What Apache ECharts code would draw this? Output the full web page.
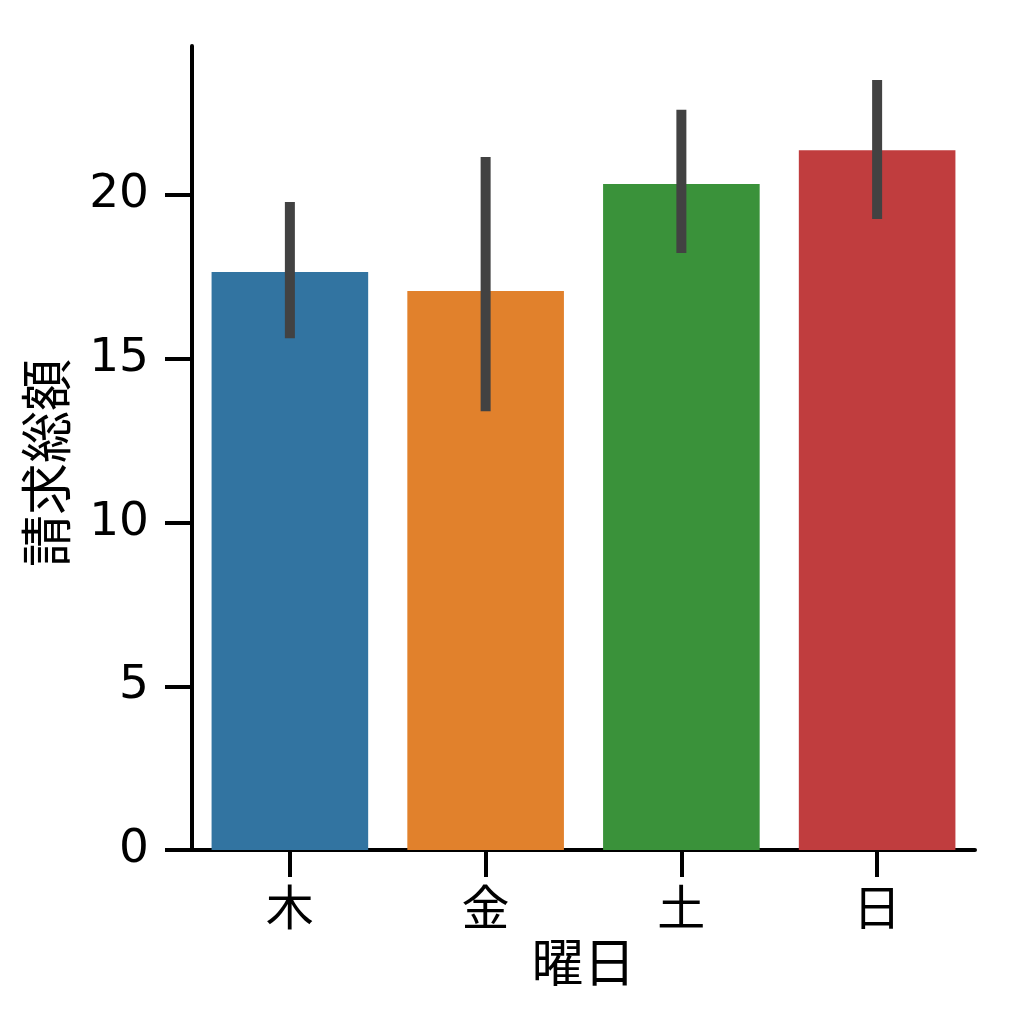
<!DOCTYPE html>
<html>
<head>
<meta charset="utf-8">
<script src="https://cdn.jsdelivr.net/npm/echarts@6/dist/echarts.min.js"></script>
<style>
  html, body { margin: 0; padding: 0; background: #fff; }
  #main { width: 1024px; height: 1024px; }
</style>
</head>
<body>
<div id="main"></div>
<script>
// data
var days = ['木', '金', '土', '日'];
var totals = [17.65, 17.07, 20.34, 21.37];
var errLow = [15.63, 13.40, 18.23, 19.27];
var errHigh = [19.79, 21.16, 22.60, 23.51];
var barColors = ['#3274a1', '#e1812c', '#3a923a', '#c03d3e'];
var yTicks = [0, 5, 10, 15, 20];

var font = '"DejaVu Sans", "Noto Sans CJK JP", sans-serif';
var cjk = '"Noto Sans CJK JP", sans-serif';

var chart = echarts.init(document.getElementById('main'), null, { renderer: 'canvas' });

var option = {
	backgroundColor : '#ffffff',
	animation : false,
	grid : {
		left : 192,
		right : 49,
		top : 46,
		bottom : 174
	},
	xAxis : {
		type : 'category',
		data : days,
		name : '曜日',
		nameLocation : 'middle',
		nameGap : 86,
		nameTextStyle : { fontSize : 52, color : '#000', fontFamily : cjk },
		axisLine : { lineStyle : { color : '#000', width : 4 } },
		axisTick : { show : true, alignWithLabel : true, interval : 0, length : 27, lineStyle : { color : '#000', width : 4 } },
		axisLabel : { fontSize : 48, color : '#000', margin : 33, interval : 0, fontFamily : cjk },
		splitLine : { show : false }
	},
	yAxis : {
		type : 'value',
		min : 0,
		max : 24.55,
		name : '請求総額',
		nameLocation : 'middle',
		nameGap : 120,
		nameTextStyle : { fontSize : 52, color : '#000', fontFamily : cjk, padding : [0, 30, 0, 0] },
		axisLine : { show : true, lineStyle : { color : '#000', width : 4 } },
		axisTick : { show : true, length : 27, customValues : yTicks, lineStyle : { color : '#000', width : 4 } },
		axisLabel : { fontSize : 47, color : '#000', margin : 43, fontFamily : font, customValues : yTicks },
		splitLine : { show : false }
	},
	series : [ {
		type : 'bar',
		barCategoryGap : '20%',
		data : totals.map(function (v, i) {
			return { value : v, itemStyle : { color : barColors[i] } };
		}),
		z : 2
	}, {
		type : 'custom',
		z : 5,
		data : days.map(function (d, i) { return [i, errLow[i], errHigh[i]]; }),
		renderItem : function (params, api) {
			var lo = api.coord([api.value(0), api.value(1)]);
			var hi = api.coord([api.value(0), api.value(2)]);
			return {
				type : 'line',
				shape : { x1 : lo[0], y1 : lo[1], x2 : hi[0], y2 : hi[1] },
				style : { stroke : '#424242', lineWidth : 10, lineCap : 'butt' }
			};
		}
	} ]
};
chart.setOption(option);
</script>
</body>
</html>
